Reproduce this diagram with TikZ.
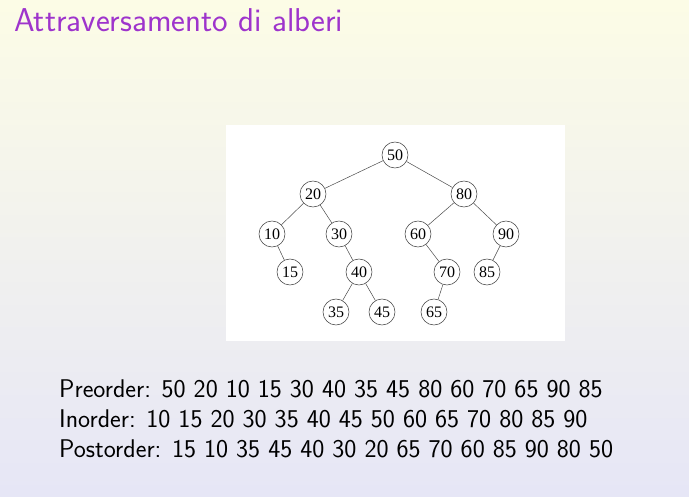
\documentclass[tikz,border=0pt]{standalone}
\usepackage{fontspec}
\newfontfamily\nodefont{Liberation Serif}
\begin{document}
\begin{tikzpicture}[x=1pt,y=-1pt,
  tn/.style={circle,draw=black!75,line width=0.55pt,minimum size=26pt,inner sep=0pt,font=\nodefont\fontsize{16}{16}\selectfont},
  ed/.style={draw=black!70,line width=0.5pt},
  ttl/.style={anchor=base west,inner sep=0pt,text=titlepurple,font=\sffamily\fontsize{33}{34}\selectfont},
  trav/.style={anchor=base west,inner sep=0pt,font=\sffamily\fontsize{25.6}{28}\selectfont}]
\definecolor{titlepurple}{RGB}{158,52,204}
\useasboundingbox (0,0) rectangle (689,496);
\shade[top color={rgb,255:red,252;green,252;blue,230},bottom color={rgb,255:red,230;green,230;blue,246}] (0,0) rectangle (689,496);
\fill[white] (226,125) rectangle (565,341);
\node[ttl] (title) at (14,31) {Attraversamento di alberi};
\node[tn] (n50) at (395,155) {50};
\node[tn] (n20) at (313,194) {20};
\node[tn] (n80) at (464,194) {80};
\node[tn] (n10) at (272,234) {10};
\node[tn] (n30) at (339,234) {30};
\node[tn] (n60) at (418,234) {60};
\node[tn] (n90) at (506,234) {90};
\node[tn] (n15) at (290,272) {15};
\node[tn] (n40) at (359,272) {40};
\node[tn] (n70) at (447,272) {70};
\node[tn] (n85) at (487,272) {85};
\node[tn] (n35) at (336,312) {35};
\node[tn] (n45) at (382,312) {45};
\node[tn] (n65) at (434,312) {65};
\draw[ed] (n50) -- (n20);
\draw[ed] (n50) -- (n80);
\draw[ed] (n20) -- (n10);
\draw[ed] (n20) -- (n30);
\draw[ed] (n80) -- (n60);
\draw[ed] (n80) -- (n90);
\draw[ed] (n10) -- (n15);
\draw[ed] (n30) -- (n40);
\draw[ed] (n60) -- (n70);
\draw[ed] (n90) -- (n85);
\draw[ed] (n40) -- (n35);
\draw[ed] (n40) -- (n45);
\draw[ed] (n70) -- (n65);
\node[trav] (pre) at (59,397) {Preorder: 50 20 10 15 30 40 35 45 80 60 70 65 90 85};
\node[trav] (in) at (59,427) {Inorder: 10 15 20 30 35 40 45 50 60 65 70 80 85 90};
\node[trav] (post) at (59,457) {Postorder: 15 10 35 45 40 30 20 65 70 60 85 90 80 50};
\end{tikzpicture}
\end{document}
